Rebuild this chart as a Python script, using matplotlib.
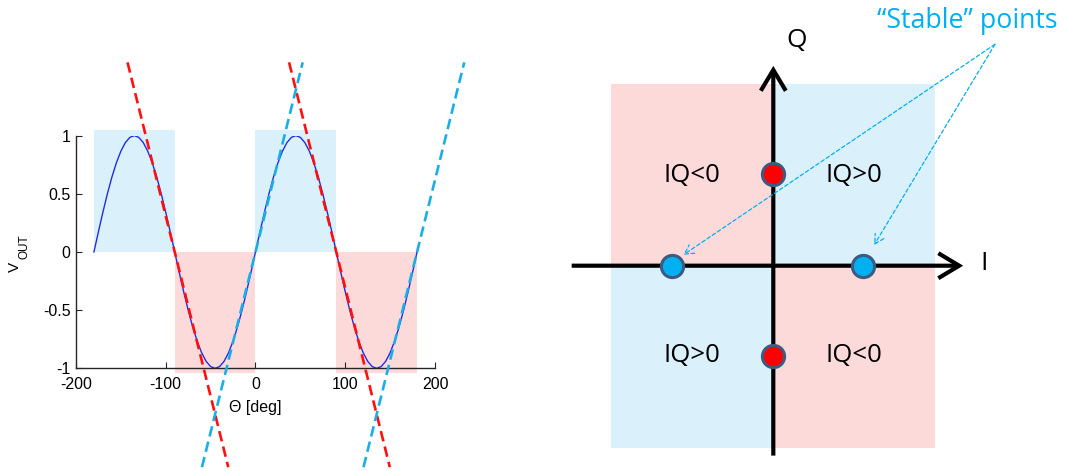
import matplotlib.pyplot as plt
from matplotlib.patches import Rectangle

plt.rcParams['font.family'] = ['Liberation Sans', 'DejaVu Sans']
plt.rcParams['axes.unicode_minus'] = False

# ==========================
# Phase detector output vs. phase
# ==========================

theta = [-180, -175, -170, -165, -160, -155, -150, -145, -140, -135,
         -130, -125, -120, -115, -110, -105, -100, -95, -90,
         -85, -80, -75, -70, -65, -60, -55, -50, -45,
         -40, -35, -30, -25, -20, -15, -10, -5, 0,
         5, 10, 15, 20, 25, 30, 35, 40, 45,
         50, 55, 60, 65, 70, 75, 80, 85, 90,
         95, 100, 105, 110, 115, 120, 125, 130, 135,
         140, 145, 150, 155, 160, 165, 170, 175, 180]
v_out = [0.0, 0.174, 0.342, 0.5, 0.643, 0.766, 0.866, 0.94, 0.985, 1.0,
         0.985, 0.94, 0.866, 0.766, 0.643, 0.5, 0.342, 0.174, 0.0,
         -0.174, -0.342, -0.5, -0.643, -0.766, -0.866, -0.94, -0.985, -1.0,
         -0.985, -0.94, -0.866, -0.766, -0.643, -0.5, -0.342, -0.174, 0.0,
         0.174, 0.342, 0.5, 0.643, 0.766, 0.866, 0.94, 0.985, 1.0,
         0.985, 0.94, 0.866, 0.766, 0.643, 0.5, 0.342, 0.174, 0.0,
         -0.174, -0.342, -0.5, -0.643, -0.766, -0.866, -0.94, -0.985, -1.0,
         -0.985, -0.94, -0.866, -0.766, -0.643, -0.5, -0.342, -0.174, 0.0]

# shaded phase bands (start, end)
pos_bands = [(-180, -90), (0, 90)]
neg_bands = [(-90, 0), (90, 180)]
pos_top = 1.05
neg_bottom = -1.04

# linearised slopes around the zero crossings
falling_zeros = [-90, 90]
rising_zeros = [0, 180]
lin_slope = 0.031      # V per degree
lin_vrange = (-1.85, 1.63)

x_ticks = [-200, -100, 0, 100, 200]
y_ticks = [-1, -0.5, 0, 0.5, 1]
y_ticklabels = ['-1', '-0.5', '0', '0.5', '1']

# ==========================
# IQ plane
# ==========================

stable_i = [-1.12, 1.0]
stable_q = [0, 0]
unstable_i = [0, 0]
unstable_q = [1.02, -1.0]
quad_labels = ['IQ<0', 'IQ>0', 'IQ>0', 'IQ<0']
quad_label_i = [-0.9, 0.9, -0.9, 0.9]
quad_label_q = [1.0, 1.0, -1.0, -1.0]

LIGHT_BLUE = '#DAF1FB'
LIGHT_RED = '#FDDADA'
CYAN = '#00B0F0'
DASH_BLUE = '#1AAEE8'

fig = plt.figure(figsize=(10.67, 4.71), dpi=100)

# ---------- left: V_OUT vs theta ----------
ax1 = fig.add_axes([0.0712, 0.218, 0.3365, 0.494])

for a, b in pos_bands:
    ax1.add_patch(Rectangle((a, 0), b - a, pos_top, color=LIGHT_BLUE,
                            lw=0, zorder=0, clip_on=False))
for a, b in neg_bands:
    ax1.add_patch(Rectangle((a, neg_bottom), b - a, -neg_bottom, color=LIGHT_RED,
                            lw=0, zorder=0, clip_on=False))

ax1.plot(theta, v_out, color='#1f2fe0', lw=1.0, zorder=2)

v0, v1 = lin_vrange
for z in falling_zeros:
    ax1.plot([z - v1 / lin_slope, z - v0 / lin_slope], [v1, v0], color='#FF1010',
             lw=1.9, dashes=(4, 2), clip_on=False, zorder=3)
for z in rising_zeros:
    ax1.plot([z + v0 / lin_slope, z + v1 / lin_slope], [v0, v1], color=DASH_BLUE,
             lw=1.9, dashes=(4, 2), clip_on=False, zorder=3)

ax1.set_xlim(-200, 200)
ax1.set_ylim(-1, 1)
ax1.set_xticks(x_ticks)
ax1.set_yticks(y_ticks)
ax1.set_yticklabels(y_ticklabels)
ax1.spines['top'].set_visible(False)
ax1.spines['right'].set_visible(False)
for s in ['left', 'bottom']:
    ax1.spines[s].set_color('#262626')
    ax1.spines[s].set_linewidth(1.0)
ax1.tick_params(direction='in', length=4, width=0.8, labelsize=11.5,
                colors='#262626', labelcolor='black')
ax1.tick_params(axis='x', pad=6)
ax1.tick_params(axis='y', pad=4)
ax1.patch.set_alpha(0)
ax1.set_xlabel('Θ [deg]', fontsize=11.5, labelpad=6)

# y label with a full-size subscript
fig.text(14.5 / 1067, 1 - 266.5 / 471, 'V', fontsize=11, rotation=90,
         ha='center', va='center')
fig.text(25 / 1067, 1 - 247 / 471, 'OUT', fontsize=8.5, rotation=90,
         ha='center', va='center')

# ---------- right: IQ plane ----------
ax2 = fig.add_axes([550 / 1067, 0, 517 / 1067, 1])
ax2.set_xlim(-2.481, 3.263)
ax2.set_ylim(-2.281, 2.952)
ax2.axis('off')

W, H = 1.8, 2.02
ax2.add_patch(Rectangle((-W, 0), W, H, color=LIGHT_RED, lw=0, zorder=0))
ax2.add_patch(Rectangle((0, 0), W, H, color=LIGHT_BLUE, lw=0, zorder=0))
ax2.add_patch(Rectangle((-W, -H), W, H, color=LIGHT_BLUE, lw=0, zorder=0))
ax2.add_patch(Rectangle((0, -H), W, H, color=LIGHT_RED, lw=0, zorder=0))

axis_style = dict(arrowstyle='->,head_length=0.75,head_width=0.45',
                  lw=3, color='black', shrinkA=0, shrinkB=0,
                  mutation_scale=20, capstyle='butt', joinstyle='miter')
ax2.annotate('', xy=(2.11, 0), xytext=(-2.24, 0), arrowprops=axis_style, zorder=2)
ax2.annotate('', xy=(0, 2.22), xytext=(0, -2.11), arrowprops=axis_style, zorder=2)

font2 = ['Open Sans', 'DejaVu Sans']
ax2.text(2.3, 0.02, 'I', fontsize=19, family=font2, va='center', ha='left')
ax2.text(0.26, 2.5, 'Q', fontsize=19, family=font2, va='center', ha='center')

for lbl, qi, qq in zip(quad_labels, quad_label_i, quad_label_q):
    ax2.text(qi, qq, lbl, fontsize=18.5, family=font2, ha='center', va='center')

# pointers to the stable points
src = (2.463, 2.46)
ptr_style = dict(arrowstyle='->,head_length=0.55,head_width=0.3', lw=0.9,
                 color=CYAN, linestyle=(0, (3, 2)), shrinkA=0, shrinkB=0,
                 mutation_scale=12)
ax2.annotate('', xy=(stable_i[0] + 0.12, 0.12), xytext=src,
             arrowprops=ptr_style, zorder=2)
ax2.annotate('', xy=(stable_i[1] + 0.12, 0.23), xytext=src,
             arrowprops=ptr_style, zorder=2)

ax2.plot(stable_i, stable_q, 'o', ms=16, mfc=CYAN, mec='#3C5A82', mew=2.2,
         zorder=4, clip_on=False)
ax2.plot(unstable_i, unstable_q, 'o', ms=16, mfc='#FF0000', mec='#3C5A82',
         mew=2.2, zorder=4, clip_on=False)

ax2.text(1.149, 2.638, '\u201cStable\u201d points', fontsize=19.3, family=font2,
         color=CYAN, ha='left', va='baseline')

fig.savefig('out.png', dpi=100)
